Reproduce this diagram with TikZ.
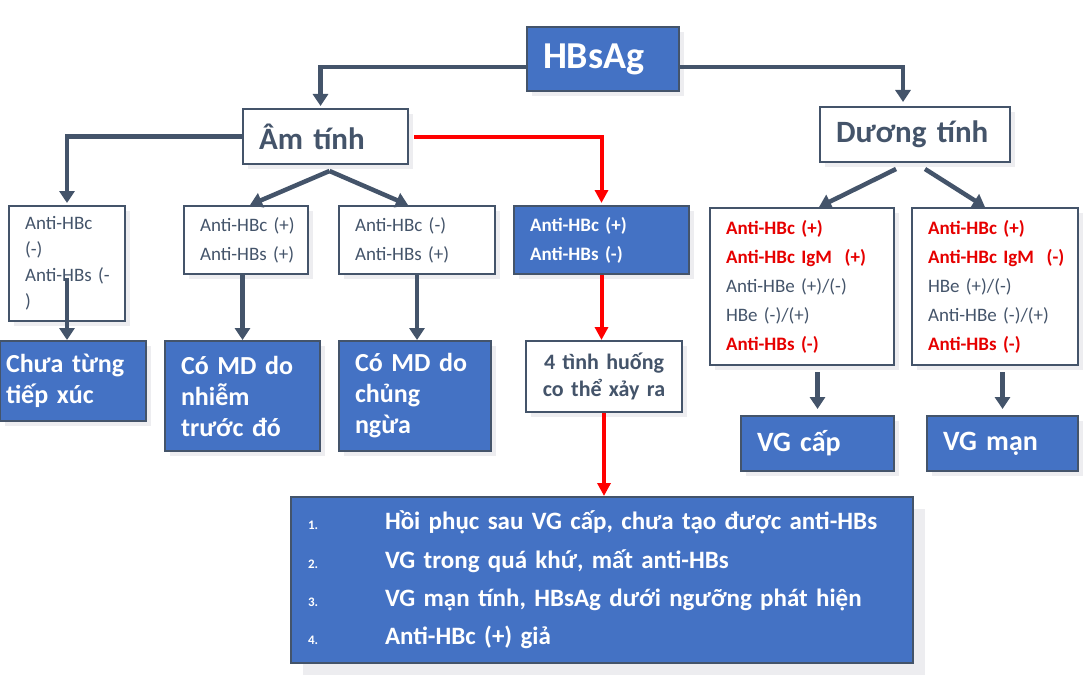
\documentclass[tikz,border=0pt]{standalone}
\usepackage{fontspec}
\setmainfont{Carlito}
\usetikzlibrary{arrows.meta,shadows}
\definecolor{slate}{HTML}{44546A}
\definecolor{hblue}{HTML}{4472C4}
\definecolor{redline}{HTML}{FF0000}
\definecolor{redtext}{HTML}{E60000}
\definecolor{shade}{HTML}{EDEDF0}
\newcommand{\redb}[1]{\textcolor{redtext}{\bfseries #1}}

\begin{document}
\begin{tikzpicture}[x=1pt,y=-1pt,
  shad/.style={drop shadow={shadow xshift=#1,shadow yshift=-#1,fill=shade,opacity=1}},
  box/.style={draw=slate,line width=2pt,fill=white,text=slate,inner xsep=16pt,inner ysep=0pt,align=left,shad=#1,
    execute at begin node={\hyphenpenalty=10000 \exhyphenpenalty=10000 }},
  box/.default=5pt,
  bluebox/.style={box=#1,fill=hblue,text=white},
  bluebox/.default=5pt,
  conn/.style={slate,line width=4.5pt,-{Triangle[width=15pt,length=12pt]}},
  redconn/.style={redline,line width=4pt,-{Triangle[width=13pt,length=13pt]}}]
  \useasboundingbox (0,0) rectangle (1083,682);

  \node[bluebox,minimum width=152pt,minimum height=64pt,text width=120pt,font=\bfseries\fontsize{38}{38}\selectfont] (hbs) at (603,59) {HBsAg};
  \node[box,minimum width=165pt,minimum height=55pt,text width=133pt,font=\bfseries\fontsize{31}{31}\selectfont] (am) at (325.5,136.5) {Âm tính};
  \node[box,minimum width=190pt,minimum height=55pt,text width=158pt,font=\bfseries\fontsize{31}{31}\selectfont] (duong) at (915,134.5) {Dương tính};

  \node[box,minimum width=116pt,minimum height=115pt,text width=84pt,font=\fontsize{19}{26}\selectfont] (b1) at (67,263.5) {Anti-HBc\\(-)\\Anti-HBs~(-\\)};
  \node[box,minimum width=124pt,minimum height=68pt,text width=92pt,font=\fontsize{19}{29}\selectfont] (b2) at (246,240) {Anti-HBc~(+)\\Anti-HBs~(+)};
  \node[box,minimum width=156pt,minimum height=68pt,text width=124pt,font=\fontsize{19}{29}\selectfont] (b3) at (417,240) {Anti-HBc~(-)\\Anti-HBs~(+)};
  \node[bluebox,minimum width=175pt,minimum height=68pt,text width=143pt,font=\bfseries\fontsize{19}{29}\selectfont] (b4) at (601.5,240) {Anti-HBc~(+)\\Anti-HBs~(-)};
  \node[box,minimum width=184pt,minimum height=157pt,text width=152pt,font=\fontsize{19}{29}\selectfont] (b5) at (802,286.5)
    {\redb{Anti-HBc~(+)}\\\redb{Anti-HBc~IgM~~(+)}\\Anti-HBe~(+)/(-)\\HBe~(-)/(+)\\\redb{Anti-HBs~(-)}};
  \node[box,minimum width=166pt,minimum height=157pt,text width=134pt,font=\fontsize{19}{29}\selectfont] (b6) at (995,286.5)
    {\redb{Anti-HBc~(+)}\\\redb{Anti-HBc~IgM~~(-)}\\HBe~(+)/(-)\\Anti-HBe~(-)/(+)\\\redb{Anti-HBs~(-)}};

  \node[bluebox,minimum width=146pt,minimum height=80pt,inner xsep=6pt,text width=134pt,font=\bfseries\fontsize{26}{31}\selectfont] (r1) at (73,381) {Chưa từng\\tiếp xúc};
  \node[bluebox,minimum width=155pt,minimum height=110pt,text width=123pt,font=\bfseries\fontsize{26}{31}\selectfont] (r2) at (242.5,396) {Có MD do\\nhiễm\\trước đó};
  \node[bluebox,minimum width=152pt,minimum height=110pt,text width=120pt,font=\bfseries\fontsize{26}{31}\selectfont] (r3) at (415,396) {Có MD do\\chủng\\ngừa};
  \node[box,minimum width=156pt,minimum height=71pt,text width=124pt,align=center,font=\bfseries\fontsize{22}{27}\selectfont] (sit) at (604,376.5) {4 tình huống\\co thể xảy ra};
  \node[bluebox,minimum width=153pt,minimum height=55pt,text width=121pt,font=\bfseries\fontsize{28}{28}\selectfont] (cap) at (817.5,443.5) {VG cấp};
  \node[bluebox,minimum width=151pt,minimum height=55pt,text width=119pt,font=\bfseries\fontsize{28}{28}\selectfont] (man) at (1002.5,443.5) {VG mạn};

  \node[bluebox=12pt,minimum width=622pt,minimum height=166pt,inner xsep=17pt,text width=588pt,font=\bfseries\fontsize{25}{38.3}\selectfont] (list) at (602,580)
    {\makebox[77pt][l]{\fontsize{13}{13}\selectfont 1.}Hồi phục sau VG cấp, chưa tạo được anti-HBs\\
     \makebox[77pt][l]{\fontsize{13}{13}\selectfont 2.}VG trong quá khứ, mất anti-HBs\\
     \makebox[77pt][l]{\fontsize{13}{13}\selectfont 3.}VG mạn tính, HBsAg dưới ngưỡng phát hiện\\
     \makebox[77pt][l]{\fontsize{13}{13}\selectfont 4.}Anti-HBc (+) giả};

  \draw[conn,shorten >=2pt] ([yshift=-8pt]hbs.west) -| ([xshift=-5pt]am.north);
  \draw[conn,shorten >=4pt] ([yshift=-8pt]hbs.east) -| ([xshift=-12pt]duong.north);
  \draw[conn,shorten >=2pt] (am.west) -| (b1.north);
  \draw[redconn,shorten >=2pt] ([xshift=5pt]am.east) -| (b4.north);
  \draw[conn] ([xshift=4pt,yshift=-6pt]am.south) -- ([xshift=4pt]b2.north);
  \draw[conn] ([xshift=4pt,yshift=-6pt]am.south) -- ([xshift=-9pt]b3.north);
  \draw[conn] ([xshift=-19pt,yshift=-6pt]duong.south) -- ([xshift=17pt]b5.north);
  \draw[conn] ([xshift=10pt,yshift=-6pt]duong.south) -- ([xshift=-10pt]b6.north);
  \draw[conn] ([yshift=-14pt]b1.center) -- (b1.center |- r1.north);
  \draw[conn] (r2.north |- b2.south) -- (r2.north);
  \draw[conn] (b3.south) -- (b3.south |- r3.north);
  \draw[redconn] (b4.south) -- (b4.south |- sit.north);
  \draw[redconn] (sit.south) -- (sit.south |- list.north);
  \draw[conn,shorten <=6pt,shorten >=6pt] (cap.north |- b5.south) -- (cap.north);
  \draw[conn,shorten <=6pt,shorten >=6pt] (man.north |- b6.south) -- (man.north);
\end{tikzpicture}
\end{document}
